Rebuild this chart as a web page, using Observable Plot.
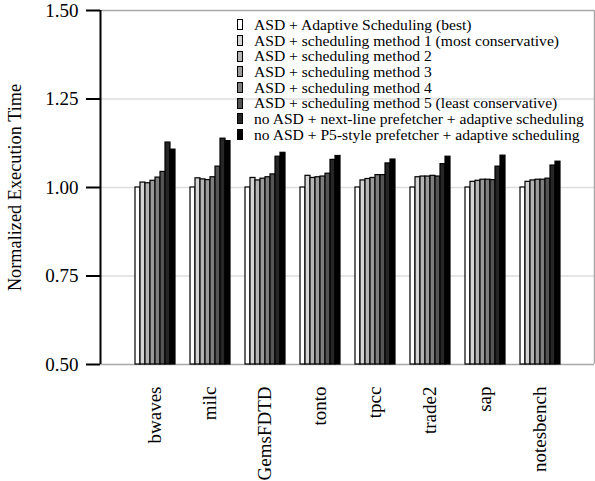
<!DOCTYPE html>
<html><head><meta charset="utf-8">
<script src="https://cdn.jsdelivr.net/npm/d3@7"></script>
<script src="https://cdn.jsdelivr.net/npm/@observablehq/plot@0.6"></script>
<style>
body{margin:0;background:#fff;}
#wrap{position:relative;width:595px;height:481px;font-family:"Liberation Serif",serif;}
#wrap svg{position:absolute;left:0;top:0;}
#legend{position:absolute;left:237px;top:17px;font-size:15.6px;line-height:15.7px;color:#000;}
.row{display:flex;align-items:center;white-space:nowrap;height:15.7px;}
.sw{width:6px;height:11px;border:1.2px solid #000;box-sizing:border-box;margin-right:11px;}
</style>
</head><body>
<div id="wrap"><div id="legend"></div></div>
<script>
const groups = ["bwaves","milc","GemsFDTD","tonto","tpcc","trade2","sap","notesbench"];
const seriesNames = [
  "ASD + Adaptive Scheduling (best)",
  "ASD + scheduling method 1 (most conservative)",
  "ASD + scheduling method 2",
  "ASD + scheduling method 3",
  "ASD + scheduling method 4",
  "ASD + scheduling method 5 (least conservative)",
  "no ASD + next-line prefetcher + adaptive scheduling",
  "no ASD + P5-style prefetcher + adaptive scheduling"
];
const colors = ["#ffffff","#d4d4d4","#b4b4b4","#9a9a9a","#7e7e7e","#555555","#262626","#000000"];
const yTicks = [0.5, 0.75, 1.0, 1.25, 1.5];
const gridValues = [0.75, 1.0, 1.25];

const bwaves     = [1.000, 1.014, 1.012, 1.019, 1.028, 1.044, 1.127, 1.107];
const milc       = [1.000, 1.026, 1.023, 1.021, 1.029, 1.059, 1.138, 1.131];
const GemsFDTD   = [1.000, 1.027, 1.020, 1.025, 1.029, 1.037, 1.087, 1.098];
const tonto      = [1.000, 1.033, 1.027, 1.029, 1.031, 1.039, 1.078, 1.089];
const tpcc       = [1.000, 1.020, 1.024, 1.027, 1.035, 1.035, 1.068, 1.079];
const trade2     = [1.000, 1.029, 1.031, 1.031, 1.033, 1.031, 1.066, 1.087];
const sap        = [1.000, 1.016, 1.019, 1.022, 1.022, 1.021, 1.059, 1.090];
const notesbench = [1.000, 1.016, 1.020, 1.022, 1.022, 1.025, 1.062, 1.073];

const valuesByGroup = [bwaves, milc, GemsFDTD, tonto, tpcc, trade2, sap, notesbench];
const data = groups.flatMap((g, gi) => valuesByGroup[gi].map((v, si) => ({group: g, series: seriesNames[si], value: v})));

const common = {
  width: 595, height: 481,
  marginLeft: 100, marginRight: 1, marginTop: 10, marginBottom: 117,
  style: {fontFamily: "Liberation Serif", fontSize: "19px", color: "black", background: "transparent"},
  y: {domain: [0.5, 1.5], axis: null}
};

// Background layer: frame, grid, y axis
const back = Plot.plot({
  ...common,
  style: {...common.style, background: "white"},
  x: {domain: [0, 1], axis: null},
  marks: [
    Plot.ruleY(gridValues, {stroke: "#dddddd", strokeWidth: 1.5}),
    Plot.ruleY([0.5, 1.5], {stroke: "#a8a8a8", strokeWidth: 1.5}),
    Plot.ruleX([1], {stroke: "#a8a8a8", strokeWidth: 1.5}),
    Plot.ruleX([0], {stroke: "black", strokeWidth: 2}),
    Plot.axisY({ticks: yTicks, tickFormat: ".2f", tickSize: 14, tickPadding: 8, strokeWidth: 2, fontSize: 19}),
    Plot.axisY({ticks: [], tickSize: 0, label: "Normalized Execution Time", labelAnchor: "center",
      labelOffset: 93, labelArrow: "none", fontSize: 18.3})
  ]
});

// Foreground layer: grouped bars
const front = Plot.plot({
  ...common,
  fx: {domain: groups, paddingInner: 0.18, paddingOuter: 0.54, label: null},
  x: {domain: seriesNames, padding: 0, axis: null},
  color: {domain: seriesNames, range: colors},
  marks: [
    Plot.barY(data, {fx: "group", x: "series", y1: 0.5, y2: "value", fill: "series", stroke: "black", strokeWidth: 1.2}),
    Plot.axisFx({anchor: "bottom", tickSize: 0, tickPadding: 22, tickRotate: -90, label: null, fontSize: 19})
  ]
});

const wrap = document.getElementById("wrap");
wrap.prepend(front);
wrap.prepend(back);

const legend = document.getElementById("legend");
seriesNames.forEach((name, i) => {
  const row = document.createElement("div");
  row.className = "row";
  const sw = document.createElement("span");
  sw.className = "sw";
  sw.style.background = colors[i];
  const t = document.createElement("span");
  t.textContent = name;
  row.append(sw, t);
  legend.append(row);
});
</script>
</body></html>
